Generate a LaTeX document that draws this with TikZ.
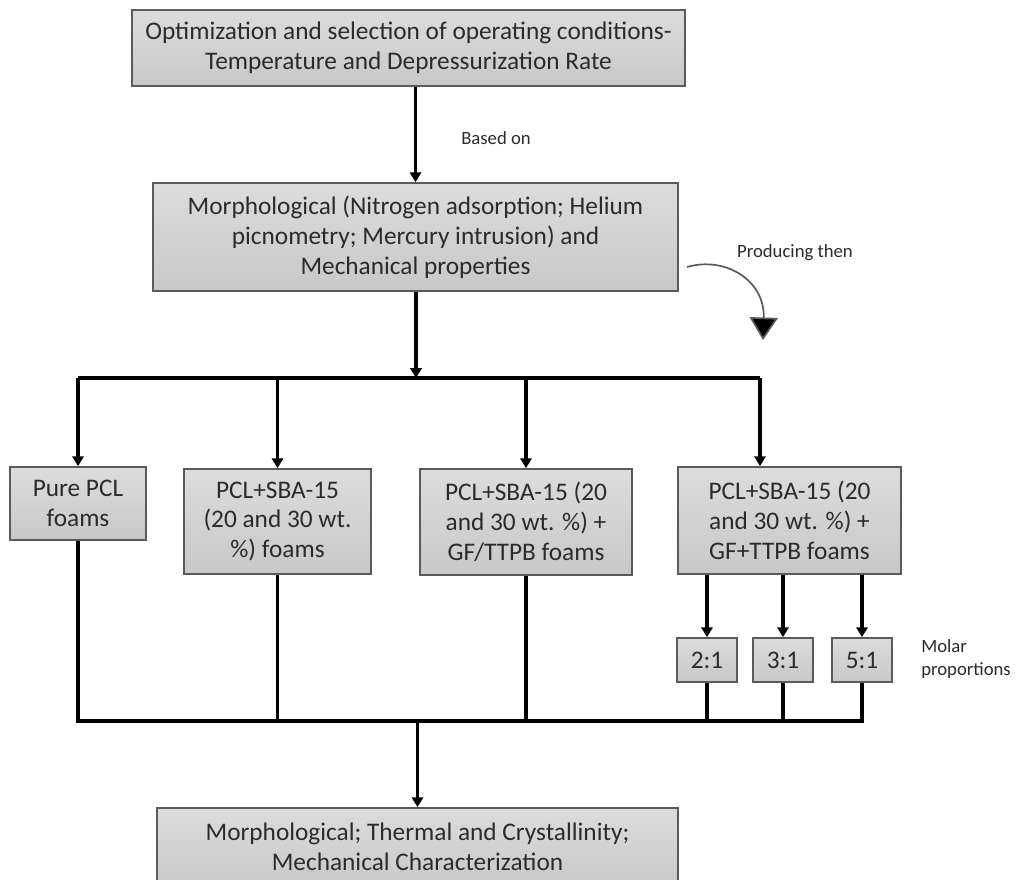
\documentclass[tikz,border=0pt]{standalone}
\usepackage{fontspec}
\setmainfont{Carlito}
\usetikzlibrary{arrows.meta}
\definecolor{boxtop}{HTML}{DCDCDC}
\definecolor{boxbot}{HTML}{C8C8C8}
\definecolor{boxline}{HTML}{5A5A5A}
\definecolor{txt}{HTML}{2B2B2B}
\tikzset{
  gbox/.style={draw=boxline, line width=1.2pt, top color=boxtop, bottom color=boxbot,
    text=txt, align=center, inner sep=0pt,
    font=\fontsize{18}{21.3}\selectfont},
  lbl/.style={text=txt, inner sep=0pt, font=\fontsize{13.3}{16.5}\selectfont},
  conn/.style={line width=2.2pt, black},
  arr/.style={conn, -{Triangle[width=8pt,length=7pt]}},
}
\begin{document}
\begin{tikzpicture}[x=0.025cm,y=-0.025cm]
\useasboundingbox[fill=white] (0,0) rectangle (1020,880);
% boxes
\node[gbox, minimum width=13.825cm, minimum height=1.9cm] (top) at (408.5,48)
  {Optimization and selection of operating conditions-\\Temperature and Depressurization Rate};
\node[gbox, minimum width=13.125cm, minimum height=2.7cm] (mid) at (415.5,237)
  {Morphological (Nitrogen adsorption; Helium\\picnometry; Mercury intrusion) and\\Mechanical properties};
\node[gbox, minimum width=3.4cm, minimum height=1.825cm] (pure) at (78,503.5)
  {Pure PCL\\foams};
\node[gbox, minimum width=4.675cm, minimum height=2.625cm] (sba) at (277.5,521.5)
  {PCL+SBA-15\\(20 and 30 wt.\\\%) foams};
\node[gbox, minimum width=5.3cm, minimum height=2.65cm] (gfs) at (526,522)
  {PCL+SBA-15 (20\\and 30 wt. \%) +\\GF/TTPB foams};
\node[gbox, minimum width=5.575cm, minimum height=2.675cm] (gfp) at (789.5,520.5)
  {PCL+SBA-15 (20\\and 30 wt. \%) +\\GF+TTPB foams};
\node[gbox, minimum width=1.5cm, minimum height=1.1cm] (r1) at (707,660) {2:1};
\node[gbox, minimum width=1.5cm, minimum height=1.1cm] (r2) at (783,660) {3:1};
\node[gbox, minimum width=1.5cm, minimum height=1.1cm] (r3) at (862,660) {5:1};
\node[gbox, minimum width=13.025cm, minimum height=1.95cm] (bot) at (417.5,847)
  {Morphological; Thermal and Crystallinity;\\Mechanical Characterization};
% labels
\node[lbl] (based) at (496,138) {Based on};
\node[lbl] (prod) at (795,253) {Producing then};
\node[lbl, anchor=west, align=left] (molar) at (921,659) {Molar\\proportions};
% connectors
\draw[arr] (mid.north |- top.south) -- (mid.north);
\coordinate (bL) at (78,378);
\coordinate (bM) at (416,378);
\coordinate (bR) at (760,378);
\draw[arr] (mid.south -| bM) -- (bM);
\draw[conn] (bL) -- (bR);
\draw[arr] (bL) -- (pure.north);
\draw[arr] (sba.north |- bL) -- (sba.north);
\draw[arr] (gfs.north |- bL) -- (gfs.north);
\draw[arr] (bR) -- (bR |- gfp.north);
\draw[arr] (r1.north |- gfp.south) -- (r1.north);
\draw[arr] (r2.north |- gfp.south) -- (r2.north);
\draw[arr] (r3.north |- gfp.south) -- (r3.north);
\coordinate (lL) at (78,721);
\coordinate (lR) at (862,721);
\draw[conn, line join=miter] (pure.south) -- (lL) -- (lR) -- (r3.south);
\draw[conn] (sba.south) -- (sba.south |- lL);
\draw[conn] (gfs.south) -- (gfs.south |- lL);
\draw[conn] (r1.south) -- (r1.south |- lL);
\draw[conn] (r2.south) -- (r2.south |- lL);
\draw[arr] (bot.north |- lL) -- (bot.north);
% curved arrow
\coordinate (cS) at (687,267);
\coordinate (cE) at (763,340);
\draw[line width=1.2pt, draw=boxline, -{Triangle[width=20pt,length=16pt,fill=black]}]
  (cS) .. controls (725,256) and (765,280) .. (cE);
\end{tikzpicture}
\end{document}
